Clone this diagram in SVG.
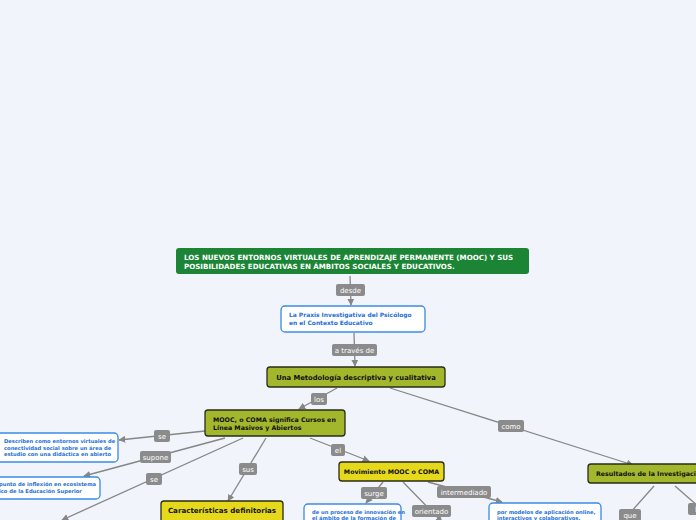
<svg xmlns="http://www.w3.org/2000/svg" width="696" height="520" viewBox="0 0 696 520">
<style>
.bg{fill:#f2f4fc}
.ln{stroke:#868686;stroke-width:1.3;fill:none}
.lb rect{fill:#8b8b8b;rx:2}
.lb text{fill:#ffffff;font-family:"DejaVu Sans",sans-serif;font-size:7px;text-anchor:middle}
.ol{fill:#a2b72c;stroke:#2b2b1a;stroke-width:1.3}
.ye{fill:#e6d91c;stroke:#2b2b1a;stroke-width:1.3}
.wb{fill:#ffffff;stroke:#3a8ae6;stroke-width:1.3}
.tk{fill:#111111;font-family:"DejaVu Sans",sans-serif;font-weight:bold;font-size:6.8px}
.tb{fill:#1d6fd8;font-family:"DejaVu Sans",sans-serif;font-weight:bold;font-size:5.95px}
.tw{fill:#ffffff;font-family:"DejaVu Sans",sans-serif;font-weight:bold;font-size:7.1px}
</style>
<defs>
<marker id="ar" viewBox="0 0 10 10" refX="9" refY="5" markerWidth="7" markerHeight="7" markerUnits="userSpaceOnUse" orient="auto">
<path d="M0,0 L10,5 L0,10 z" fill="#868686"/>
</marker>
</defs>
<rect class="bg" x="0" y="0" width="696" height="520"/>

<g id="connectors">
<path class="ln" marker-end="url(#ar)" d="M350,276 L351,305"/>
<path class="ln" marker-end="url(#ar)" d="M354,333 L355,366"/>
<path class="ln" marker-end="url(#ar)" d="M337,388 L299,409"/>
<path class="ln" marker-end="url(#ar)" d="M390,388 L633,465"/>
<path class="ln" marker-end="url(#ar)" d="M205,431 L119,440"/>
<path class="ln" marker-end="url(#ar)" d="M225,438 L84,476"/>
<path class="ln" marker-end="url(#ar)" d="M243,438 L62,520"/>
<path class="ln" marker-end="url(#ar)" d="M266,438 L228,501"/>
<path class="ln" marker-end="url(#ar)" d="M310,438 L369,461"/>
<path class="ln" marker-end="url(#ar)" d="M383,482 L366,503"/>
<path class="ln" marker-end="url(#ar)" d="M403,482 L442,522"/>
<path class="ln" marker-end="url(#ar)" d="M428,482 L502,502"/>
<path class="ln" d="M654,486 L622,522"/>
<path class="ln" d="M675,486 L700,508"/>
<g class="lb"><rect x="336" y="284" width="29" height="12"/><text x="350.5" y="293">desde</text></g>
<g class="lb"><rect x="332" y="344" width="45" height="12"/><text x="354.5" y="353">a través de</text></g>
<g class="lb"><rect x="311" y="393" width="16" height="12"/><text x="319" y="402">los</text></g>
<g class="lb"><rect x="498" y="420" width="26" height="12"/><text x="511" y="429">como</text></g>
<g class="lb"><rect x="154" y="430" width="16" height="12"/><text x="162" y="439">se</text></g>
<g class="lb"><rect x="140" y="451" width="31" height="12"/><text x="155.5" y="460">supone</text></g>
<g class="lb"><rect x="146" y="473" width="16" height="12"/><text x="154" y="482">se</text></g>
<g class="lb"><rect x="239" y="463" width="18" height="12"/><text x="248" y="472">sus</text></g>
<g class="lb"><rect x="331" y="444" width="14" height="12"/><text x="338" y="453">el</text></g>
<g class="lb"><rect x="361" y="487" width="26" height="12"/><text x="374" y="496">surge</text></g>
<g class="lb"><rect x="412" y="505" width="39" height="12"/><text x="431.5" y="514">orientado</text></g>
<g class="lb"><rect x="437" y="486" width="54" height="12"/><text x="464" y="495">intermediado</text></g>
<g class="lb"><rect x="619" y="509" width="22" height="12"/><text x="630" y="518">que</text></g>
<g class="lb"><rect x="688" y="503" width="20" height="12"/><text x="698" y="512">la</text></g>
</g>

<g id="n-title">
<rect x="176" y="248" width="353" height="26" rx="3" fill="#1b8535"/>
<text class="tw" x="184" y="260">LOS NUEVOS ENTORNOS VIRTUALES DE APRENDIZAJE PERMANENTE (MOOC) Y SUS</text>
<text class="tw" x="184" y="269">POSIBILIDADES EDUCATIVAS EN  ÁMBITOS SOCIALES Y EDUCATIVOS.</text>
</g>

<g id="n-praxis">
<rect class="wb" x="281" y="306" width="144" height="26" rx="4"/>
<text class="tb" x="289" y="317">La Praxis Investigativa del Psicólogo</text>
<text class="tb" x="289" y="325">en el Contexto Educativo</text>
</g>

<g id="n-metodologia">
<rect class="ol" x="267" y="367" width="178" height="20" rx="3"/>
<text class="tk" x="356" y="380" text-anchor="middle">Una Metodología descriptiva y cualitativa</text>
</g>

<g id="n-mooc">
<rect class="ol" x="205" y="410" width="140" height="26" rx="3"/>
<text class="tk" x="213" y="422" style="font-size:6.3px">MOOC, o COMA significa Cursos en</text>
<text class="tk" x="213" y="430" style="font-size:6.3px">Línea Masivos y Abiertos</text>
</g>

<g id="n-describen">
<rect class="wb" x="-6" y="433" width="124" height="29" rx="4"/>
<text class="tb" x="4" y="443" style="font-size:5.2px">Describen como entornos virtuales de</text>
<text class="tb" x="4" y="449.5" style="font-size:5.2px">conectividad social sobre un área de</text>
<text class="tb" x="4" y="456" style="font-size:5.2px">estudio con una didáctica en abierto</text>
</g>

<g id="n-punto">
<rect class="wb" x="-6" y="477" width="106" height="22" rx="4"/>
<text class="tb" x="-1" y="486" style="font-size:5.2px">punto de inflexión en ecosistema</text>
<text class="tb" x="-1" y="492.5" style="font-size:5.2px">ico de la Educación Superior</text>
</g>

<g id="n-caracteristicas">
<rect class="ye" x="161" y="501" width="122" height="26" rx="3"/>
<text class="tk" x="222" y="513" text-anchor="middle" style="font-size:7.1px">Características definitorias</text>
</g>

<g id="n-movimiento">
<rect class="ye" x="339" y="462" width="105" height="19" rx="3"/>
<text class="tk" x="391.5" y="474" text-anchor="middle" style="font-size:6.3px">Movimiento MOOC o COMA</text>
</g>

<g id="n-proceso">
<rect class="wb" x="304" y="504" width="97" height="24" rx="4"/>
<text class="tb" x="312" y="514" style="font-size:5.2px">de un proceso de innovación en</text>
<text class="tb" x="312" y="520" style="font-size:5.2px">el ámbito de la formación de</text>
</g>

<g id="n-modelos">
<rect class="wb" x="489" y="503" width="112" height="24" rx="4"/>
<text class="tb" x="497" y="514" style="font-size:5.2px">por modelos de aplicación online,</text>
<text class="tb" x="497" y="520" style="font-size:5.2px">interactivos y colaborativos.</text>
</g>

<g id="n-resultados">
<rect class="ol" x="588" y="464" width="120" height="19" rx="3"/>
<text class="tk" x="596" y="476" style="font-size:6.3px">Resultados de la Investigación</text>
</g>
</svg>
